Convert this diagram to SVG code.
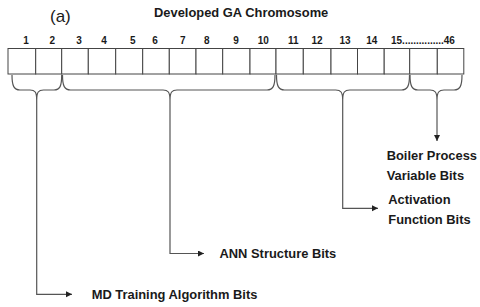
<svg xmlns="http://www.w3.org/2000/svg" width="480" height="307" viewBox="0 0 480 307">
<style>
.t{font-family:"Liberation Sans",Arial,sans-serif;font-weight:bold;fill:#1a1a1a;font-size:12.9px}
.n{font-family:"Liberation Sans",Arial,sans-serif;font-weight:bold;fill:#1a1a1a;font-size:10px;text-anchor:middle}
.cell{fill:#fff;stroke:#444;stroke-width:1}
.br{fill:none;stroke:#555;stroke-width:1.2}
.ln{fill:none;stroke:#555;stroke-width:1.2}
</style>
<defs>
<marker id="ah" markerUnits="userSpaceOnUse" markerWidth="7" markerHeight="7" refX="6" refY="3" orient="auto">
<path d="M0,0 L6,3 L0,6 z" fill="#222"/>
</marker>
</defs>
<rect width="480" height="307" fill="#fff"/>
<text x="50" y="21.5" style="font-family:'Liberation Sans',Arial,sans-serif;font-size:17px;fill:#1a1a1a">(a)</text>
<text class="t" x="154" y="17">Developed GA Chromosome</text>
<g id="numbers">
<text class="n" x="26" y="43.5">1</text>
<text class="n" x="52.3" y="43.5">2</text>
<text class="n" x="79" y="43.5">3</text>
<text class="n" x="104" y="43.5">4</text>
<text class="n" x="132.7" y="43.5">5</text>
<text class="n" x="155" y="43.5">6</text>
<text class="n" x="182.7" y="43.5">7</text>
<text class="n" x="206.7" y="43.5">8</text>
<text class="n" x="236" y="43.5">9</text>
<text class="n" x="263.3" y="43.5">10</text>
<text class="n" x="293.3" y="43.5">11</text>
<text class="n" x="317" y="43.5">12</text>
<text class="n" x="345" y="43.5">13</text>
<text class="n" x="371.7" y="43.5">14</text>
<text class="n" x="391" y="43.5" style="text-anchor:start">15...............46</text>
</g>
<g id="chromosome">
<rect class="cell" x="8" y="48.5" width="27.7" height="25.5"/>
<rect class="cell" x="35.7" y="48.5" width="26" height="25.5"/>
<rect class="cell" x="61.7" y="48.5" width="26.6" height="25.5"/>
<rect class="cell" x="88.3" y="48.5" width="27.4" height="25.5"/>
<rect class="cell" x="115.7" y="48.5" width="27" height="25.5"/>
<rect class="cell" x="142.7" y="48.5" width="26.6" height="25.5"/>
<rect class="cell" x="169.3" y="48.5" width="26.7" height="25.5"/>
<rect class="cell" x="196" y="48.5" width="26.7" height="25.5"/>
<rect class="cell" x="222.7" y="48.5" width="27.3" height="25.5"/>
<rect class="cell" x="250" y="48.5" width="26" height="25.5"/>
<rect class="cell" x="276" y="48.5" width="27.3" height="25.5"/>
<rect class="cell" x="303.3" y="48.5" width="27.7" height="25.5"/>
<rect class="cell" x="331" y="48.5" width="26.5" height="25.5"/>
<rect class="cell" x="357.5" y="48.5" width="26.7" height="25.5"/>
<rect class="cell" x="384.2" y="48.5" width="25.5" height="25.5"/>
<rect class="cell" x="409.7" y="48.5" width="27.6" height="25.5"/>
<rect class="cell" x="437.3" y="48.5" width="26.5" height="25.5"/>
</g>
<g id="braces">
<path class="br" d="M12,75 C12,86 14,90 20,90 L30,90 C35,90 36.7,92 36.7,100 C36.7,92 38.5,90 43.5,90 L54,90 C60,90 61.7,86 61.7,75"/>
<path class="br" d="M62.5,75 C62.5,86 64.5,90 70.5,90 L163,90 C168,90 170,92 170,100 C170,92 172,90 177,90 L267,90 C273,90 275,86 275,75"/>
<path class="br" d="M276.5,75 C276.5,86 278.5,90 284.5,90 L335.7,90 C340.7,90 342.7,92 342.7,100 C342.7,92 344.7,90 349.7,90 L401.5,90 C407.5,90 409.5,86 409.5,75"/>
<path class="br" d="M410,75 C410,86 412,90 418,90 L430,90 C435,90 437,92 437,100 C437,92 439,90 444,90 L454,90 C460,90 462,86 462,75"/>
</g>
<g id="connectors">
<path class="ln" d="M36.7,100 V294.3 H72" marker-end="url(#ah)"/>
<path class="ln" d="M170,100 V253.5 H204" marker-end="url(#ah)"/>
<path class="ln" d="M342.7,100 V208.3 H378" marker-end="url(#ah)"/>
<path class="ln" d="M437,100 V141" marker-end="url(#ah)"/>
</g>
<g id="md-training">
<text class="t" x="91.7" y="298.7">MD Training Algorithm Bits</text>
</g>
<g id="ann-structure">
<text class="t" x="219.5" y="258">ANN Structure Bits</text>
</g>
<g id="activation">
<text class="t" x="388.3" y="204">Activation</text>
<text class="t" x="388.3" y="223.5">Function Bits</text>
</g>
<g id="boiler">
<text class="t" x="386.7" y="160">Boiler Process</text>
<text class="t" x="386.7" y="179.5">Variable Bits</text>
</g>
</svg>
